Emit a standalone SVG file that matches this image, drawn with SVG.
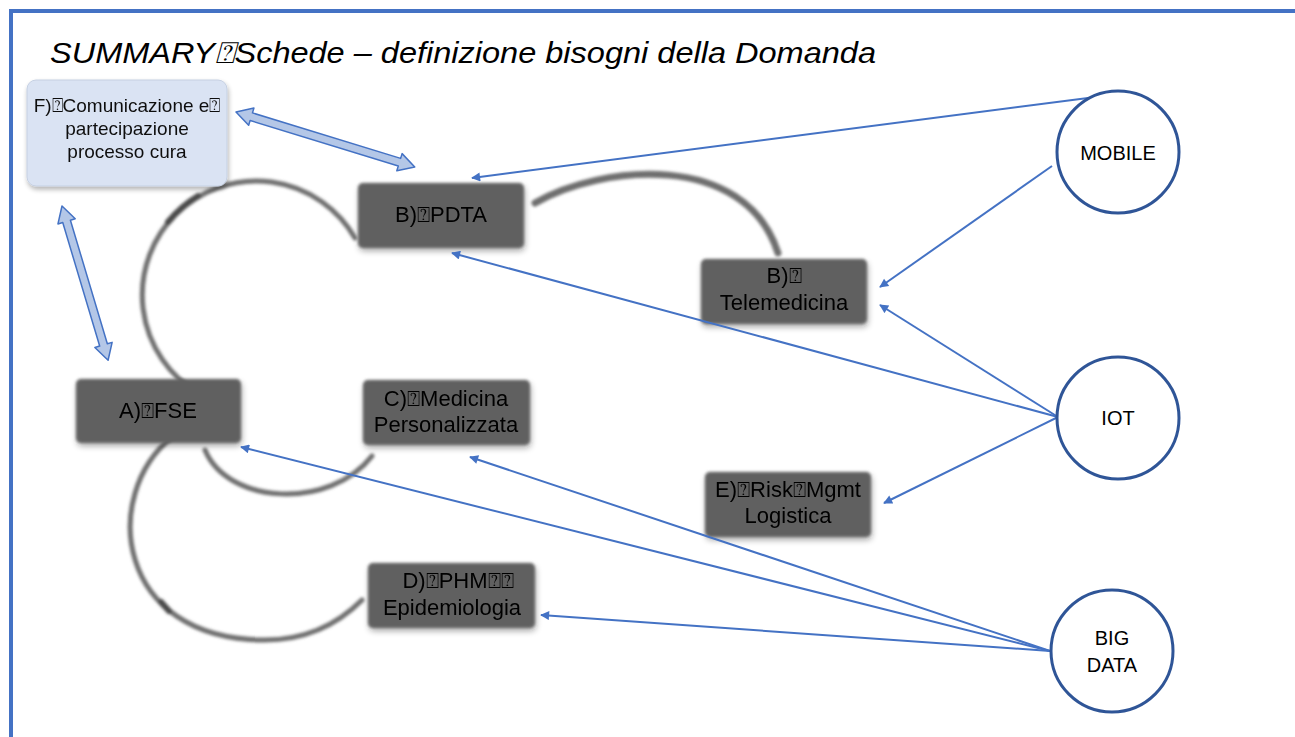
<svg xmlns="http://www.w3.org/2000/svg" width="1295" height="737" viewBox="0 0 1295 737">
  <defs>
    <style>
      .frame { fill: none; stroke: #4472C4; stroke-width: 4; }
      .title { font-family: "Liberation Sans", Arial, sans-serif; font-style: italic; font-size: 30px; fill: #000; }
      .lbl { font-family: "Liberation Sans", Arial, sans-serif; font-size: 22px; fill: #000; text-anchor: middle; }
      .lblF { font-family: "Liberation Sans", Arial, sans-serif; font-size: 19px; fill: #111; text-anchor: middle; }
      .lblC { font-family: "Liberation Sans", Arial, sans-serif; font-size: 20px; fill: #000; text-anchor: middle; }
      .box { fill: #616161; }
      .boxF { fill: #DAE3F3; stroke: #C5D0E2; stroke-width: 1; }
      .hub { fill: #FFFFFF; stroke: #2F5597; stroke-width: 3; }
      .link { fill: none; stroke: #4472C4; stroke-width: 2; marker-end: url(#head); }
      .loop { fill: none; stroke: #6E6E6E; stroke-width: 5; stroke-linecap: round; }
      .loopDark { fill: none; stroke: #4A4A4A; stroke-width: 6; stroke-linecap: round; }
      .block { fill: #B4C7E7; stroke: #4472C4; stroke-width: 1.5; stroke-linejoin: round; }
    </style>
    <marker id="head" viewBox="0 0 10 10" refX="9" refY="5" markerWidth="11" markerHeight="9" markerUnits="userSpaceOnUse" orient="auto">
      <path d="M0,0 L10,5 L0,10 Z" fill="#4472C4"/>
    </marker>
    <filter id="soft" x="-20%" y="-20%" width="140%" height="140%">
      <feGaussianBlur in="SourceAlpha" stdDeviation="3"/>
      <feOffset dx="1" dy="3" result="sh"/>
      <feComponentTransfer in="sh" result="sh2"><feFuncA type="linear" slope="0.35"/></feComponentTransfer>
      <feGaussianBlur in="SourceGraphic" stdDeviation="1.6" result="b"/>
      <feMerge><feMergeNode in="sh2"/><feMergeNode in="b"/></feMerge>
    </filter>
    <filter id="blurLine" x="-10%" y="-10%" width="120%" height="120%">
      <feGaussianBlur stdDeviation="1.4"/>
    </filter>
    <filter id="shadowF" x="-20%" y="-20%" width="140%" height="140%">
      <feGaussianBlur in="SourceAlpha" stdDeviation="2.5"/>
      <feOffset dx="1" dy="3" result="s"/>
      <feComponentTransfer in="s" result="s2"><feFuncA type="linear" slope="0.3"/></feComponentTransfer>
      <feMerge><feMergeNode in="s2"/><feMergeNode in="SourceGraphic"/></feMerge>
    </filter>
    <filter id="textSoft"><feGaussianBlur stdDeviation="0.4"/></filter>
  </defs>

  <rect width="1295" height="737" fill="#FFFFFF"/>

  <!-- page frame -->
  <path class="frame" d="M11,737 V11 H1295"/>

  <text class="title" x="50" y="63" textLength="826" lengthAdjust="spacingAndGlyphs">SUMMARY⍰Schede – definizione bisogni della Domanda</text>

  <!-- grey process loops between the cards -->
  <g id="loops" filter="url(#blurLine)">
    <path class="loop" d="M355,238 A114,114 0 1 0 198,393"/>
    <path class="loopDark" d="M198,196 A114,114 0 0 0 168,222"/>
    <path class="loop" d="M535,203 C600,165 745,150 778,253" style="stroke-width:7"/>
    <path class="loop" d="M205,450 C228,505 330,510 372,456"/>
    <path class="loop" d="M172,437 C100,495 115,640 265,640 C310,640 340,622 362,600"/>
    <path class="loopDark" d="M161,602 L169,611" style="stroke-width:6"/>
  </g>

  <!-- nodes -->
  <g id="nodeF" filter="url(#shadowF)">
    <rect class="boxF" x="27" y="80" width="200" height="106" rx="9"/>
    <text class="lblF" x="127" y="112">F)⍰Comunicazione e⍰</text>
    <text class="lblF" x="127" y="135">partecipazione</text>
    <text class="lblF" x="127" y="158">processo cura</text>
  </g>

  <g id="nodePDTA">
    <rect class="box" x="358" y="183" width="166" height="65" rx="5" filter="url(#soft)"/>
    <text class="lbl" x="441" y="222" filter="url(#textSoft)">B)⍰PDTA</text>
  </g>

  <g id="nodeTelemedicina">
    <rect class="box" x="701" y="259" width="166" height="65" rx="5" filter="url(#soft)"/>
    <text class="lbl" x="784" y="283" filter="url(#textSoft)">B)⍰</text>
    <text class="lbl" x="784" y="310" filter="url(#textSoft)">Telemedicina</text>
  </g>

  <g id="nodeFSE">
    <rect class="box" x="76" y="379" width="165" height="64" rx="5" filter="url(#soft)"/>
    <text class="lbl" x="158" y="418" filter="url(#textSoft)">A)⍰FSE</text>
  </g>

  <g id="nodeMedicina">
    <rect class="box" x="363" y="380" width="167" height="65" rx="5" filter="url(#soft)"/>
    <text class="lbl" x="446" y="406" filter="url(#textSoft)">C)⍰Medicina</text>
    <text class="lbl" x="446" y="432" filter="url(#textSoft)">Personalizzata</text>
  </g>

  <g id="nodeRisk">
    <rect class="box" x="705" y="472" width="166" height="65" rx="5" filter="url(#soft)"/>
    <text class="lbl" x="788" y="497" filter="url(#textSoft)">E)⍰Risk⍰Mgmt</text>
    <text class="lbl" x="788" y="523" filter="url(#textSoft)">Logistica</text>
  </g>

  <g id="nodePHM">
    <rect class="box" x="368" y="563" width="167" height="65" rx="5" filter="url(#soft)"/>
    <text class="lbl" x="458" y="588" filter="url(#textSoft)">D)⍰PHM⍰⍰</text>
    <text class="lbl" x="452" y="615" filter="url(#textSoft)">Epidemiologia</text>
  </g>

  <!-- connectors -->
  <g id="connectors">
    <path class="block" transform="translate(236,112) rotate(17.08)" d="M0,0 L16,-9 L16,-4 L171,-4 L171,-9 L187,0 L171,9 L171,4 L16,4 L16,9 Z"/>
    <path class="block" transform="translate(62,206) rotate(73.37)" d="M0,0 L16,-9 L16,-4 L145,-4 L145,-9 L161,0 L145,9 L145,4 L16,4 L16,9 Z"/>

    <line class="link" x1="1088" y1="98" x2="472" y2="178"/>
    <line class="link" x1="1052" y1="166" x2="880" y2="287"/>
    <line class="link" x1="1058" y1="417" x2="880" y2="305"/>
    <line class="link" x1="1058" y1="417" x2="452" y2="253"/>
    <line class="link" x1="1058" y1="417" x2="884" y2="503"/>
    <line class="link" x1="1050" y1="651" x2="241" y2="447"/>
    <line class="link" x1="1050" y1="651" x2="470" y2="457"/>
    <line class="link" x1="1050" y1="651" x2="541" y2="615"/>
  </g>

  <!-- technology hubs -->
  <g id="hubMobile">
    <circle class="hub" cx="1118" cy="152" r="61"/>
    <text class="lblC" x="1118" y="160">MOBILE</text>
  </g>
  <g id="hubIot">
    <circle class="hub" cx="1118" cy="418" r="61"/>
    <text class="lblC" x="1118" y="425">IOT</text>
  </g>
  <g id="hubBigData">
    <circle class="hub" cx="1112" cy="651" r="61"/>
    <text class="lblC" x="1112" y="645">BIG</text>
    <text class="lblC" x="1112" y="672">DATA</text>
  </g>
</svg>
